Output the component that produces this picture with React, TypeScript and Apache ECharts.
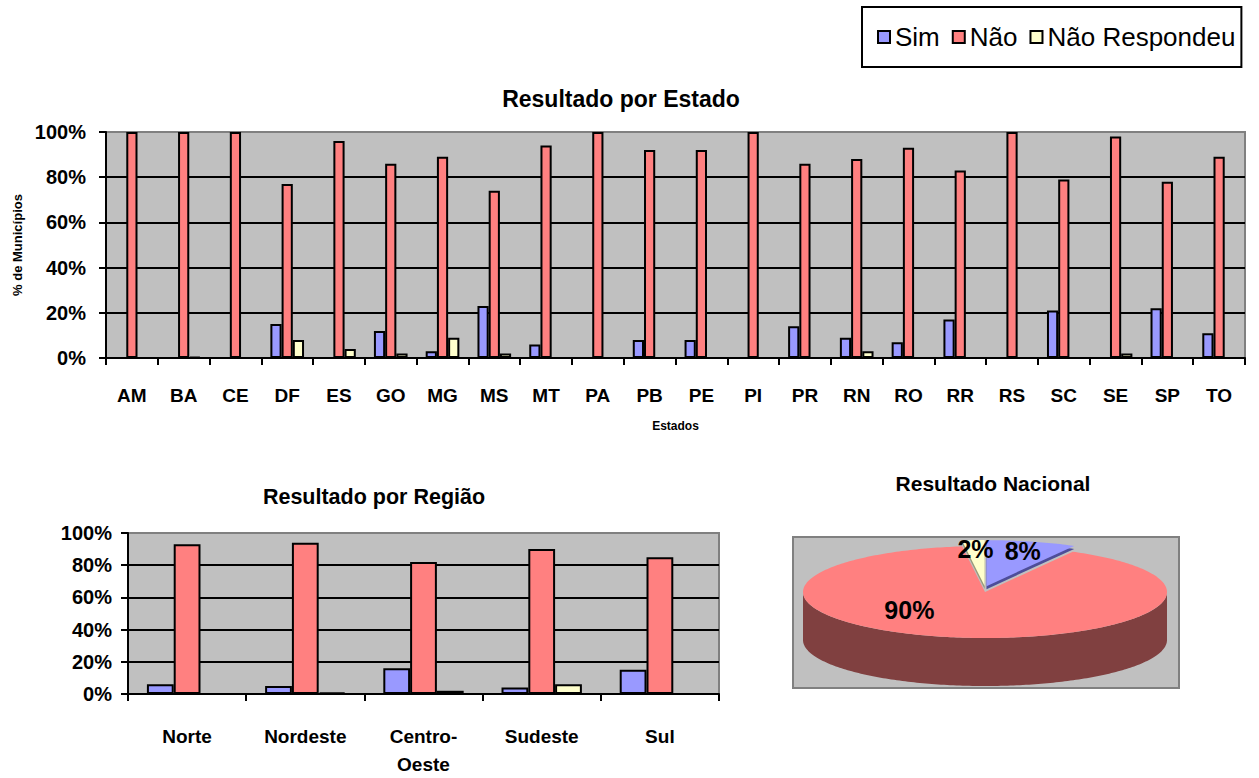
import React, { useEffect, useRef } from "react";
import * as echarts from "echarts";

// ---------- DATA ----------
const seriesNames = ["Sim", "Não", "Não Respondeu"];

const estados = ["AM", "BA", "CE", "DF", "ES", "GO", "MG", "MS", "MT", "PA", "PB", "PE", "PI", "PR", "RN", "RO", "RR", "RS", "SC", "SE", "SP", "TO"];
const estadoSim = [0, 0, 0, 15, 0, 12, 3, 23, 6, 0, 8, 8, 0, 14, 9, 7, 17, 0, 21, 0, 22, 11];
const estadoNao = [100, 100, 100, 77, 96, 86, 89, 74, 94, 100, 92, 92, 100, 86, 88, 93, 83, 100, 79, 98, 78, 89];
const estadoNR = [0, 0.5, 0, 8, 4, 2, 9, 2, 0, 0, 0, 0, 0, 0, 3, 0, 0, 0, 0, 2, 0, 0];

const regioes = ["Norte", "Nordeste", "Centro-\nOeste", "Sudeste", "Sul"];
const regiaoSim = [6, 5, 16, 4, 15];
const regiaoNao = [93, 94, 82, 90, 85];
const regiaoNR = [0, 1, 2, 6, 0];

const nacional = [8, 90, 2];

const yMin = 0;
const yMax = 100;
const yStep = 20;

// ---------- STYLE ----------
const FONT = 'Arial, "Liberation Sans", sans-serif';
const fills = ["#9999FF", "#FF8080", "#FFFFCC"];
const sideFills = ["#4D4D99", "#804040", "#99997A"];
const PIE = { cx: 985, cy: 592, rx: 182, ry: 46, depth: 48, explode: 6 };

function barSeries(name: string, data: number[], idx: number, axis: number, gap: string) {
  return {
    name,
    type: "bar",
    xAxisIndex: axis,
    yAxisIndex: axis,
    data,
    barGap: "0%",
    barCategoryGap: gap,
    itemStyle: { color: fills[idx], borderColor: "#000", borderWidth: 2 },
  };
}

function arcPoints(a0: number, a1: number, dy: number, ox: number, oy: number) {
  const pts: number[][] = [];
  const n = Math.max(2, Math.ceil(Math.abs(a1 - a0) / (Math.PI / 180)));
  for (let k = 0; k <= n; k++) {
    const t = a0 + ((a1 - a0) * k) / n;
    pts.push([PIE.cx + ox + PIE.rx * Math.cos(t), PIE.cy + oy + PIE.ry * Math.sin(t) + dy]);
  }
  return pts;
}

function renderPie(params: any, api: any) {
  const i = params.dataIndex;
  const total = nacional.reduce((a, b) => a + b, 0);
  let before = 0;
  for (let k = 0; k < i; k++) before += nacional[k];
  const v = api.value(0);
  const a0 = -Math.PI / 2 + (before / total) * 2 * Math.PI;
  const a1 = -Math.PI / 2 + ((before + v) / total) * 2 * Math.PI;
  const mid = (a0 + a1) / 2;
  const isMain = v === Math.max(...nacional);
  const ex = isMain ? 0 : PIE.explode;
  const ox = Math.cos(mid) * ex;
  const oy = Math.sin(mid) * ex;
  const children: any[] = [];
  const s = Math.max(a0, 0);
  const e = Math.min(a1, Math.PI);
  if (e > s) {
    const top = arcPoints(s, e, 0, ox, oy);
    const bot = arcPoints(s, e, PIE.depth, ox, oy).reverse();
    children.push({ type: "polygon", z2: 1, shape: { points: top.concat(bot) }, style: { fill: sideFills[i] } });
  }
  if (!isMain) {
    children.push({
      type: "polygon",
      z2: 5,
      shape: { points: [[PIE.cx + ox, PIE.cy + oy + 3]].concat(arcPoints(a0, a1, 3, ox, oy)) },
      style: { fill: sideFills[i] },
    });
  }
  children.push({
    type: "polygon",
    z2: isMain ? 2 : 6,
    shape: { points: [[PIE.cx + ox, PIE.cy + oy]].concat(arcPoints(a0, a1, 0, ox, oy)) },
    style: { fill: fills[i] },
  });
  const f = isMain ? 0.4 : 0.8;
  let lx = PIE.cx + ox + Math.cos(mid) * PIE.rx * f;
  const ly = PIE.cy + oy + Math.sin(mid) * PIE.ry * f;
  if (isMain) lx -= 62;
  children.push({
    type: "text",
    z2: 20,
    style: {
      text: Math.round((v / total) * 100) + "%",
      x: lx,
      y: ly,
      fill: "#000",
      font: "bold 25px " + FONT,
      align: "center",
      verticalAlign: "middle",
    },
  });
  return { type: "group", children };
}

const yAxisCommon = (fontSize: number, margin: number) => ({
  type: "value",
  min: yMin,
  max: yMax,
  interval: yStep,
  axisLine: { show: true, lineStyle: { color: "#000", width: 2 } },
  axisTick: { show: true, length: 7, lineStyle: { color: "#000", width: 2 } },
  axisLabel: { formatter: "{value}%", color: "#000", fontWeight: "bold", fontSize, fontFamily: FONT, margin },
  splitLine: { show: true, showMaxLine: false, lineStyle: { color: "#000", width: 2 } },
});

const xAxisCommon = (data: string[], margin: number) => ({
  type: "category",
  data,
  axisLine: { show: true, lineStyle: { color: "#000", width: 2 } },
  axisTick: { show: true, length: 7, lineStyle: { color: "#000", width: 2 } },
  axisLabel: { interval: 0, color: "#000", fontWeight: "bold", fontSize: 19, fontFamily: FONT, margin, lineHeight: 28 },
  splitLine: { show: false },
});

export default function App() {
  const ref = useRef<HTMLDivElement>(null);
  useEffect(() => {
    if (!ref.current) return;
    const chart = echarts.init(ref.current, undefined, { renderer: "svg" });
    const option: any = {
      animation: false,
      backgroundColor: "#fff",
      textStyle: { fontFamily: FONT },
      title: [
        { text: "Resultado por Estado", left: 621, top: 87, padding: 0, textAlign: "center", textStyle: { fontSize: 23, fontWeight: "bold", color: "#000", fontFamily: FONT } },
        { text: "Resultado por Região", left: 374, top: 486, padding: 0, textAlign: "center", textStyle: { fontSize: 21.5, fontWeight: "bold", color: "#000", fontFamily: FONT } },
        { text: "Resultado Nacional", left: 993, top: 473, padding: 0, textAlign: "center", textStyle: { fontSize: 21, fontWeight: "bold", color: "#000", fontFamily: FONT } },
      ],
      legend: {
        data: seriesNames,
        left: 862,
        top: 7,
        icon: "rect",
        itemWidth: 12,
        itemHeight: 12,
        itemGap: 12,
        padding: [17, 6, 17, 15],
        backgroundColor: "#fff",
        borderColor: "#000",
        borderWidth: 2,
        textStyle: { fontSize: 26, color: "#000", fontFamily: FONT },
      },
      grid: [
        { left: 106, top: 132, width: 1139, height: 226, show: true, backgroundColor: "#C0C0C0", borderColor: "#808080", borderWidth: 2 },
        { left: 128, top: 533, width: 591, height: 171, show: true, backgroundColor: "#C0C0C0", borderColor: "#808080", borderWidth: 2 },
      ],
      xAxis: [
        {
          ...xAxisCommon(estados, 23),
          gridIndex: 0,
          name: "Estados",
          nameLocation: "middle",
          nameGap: 62,
          nameTextStyle: { fontSize: 12, fontWeight: "bold", color: "#000", fontFamily: FONT },
        },
        { ...xAxisCommon(regioes, 28), gridIndex: 1 },
      ],
      yAxis: [
        {
          ...yAxisCommon(20, 20),
          gridIndex: 0,
          name: "% de Municípios",
          nameLocation: "middle",
          nameGap: 80,
          nameTextStyle: { fontSize: 13, fontWeight: "bold", color: "#000", fontFamily: FONT },
        },
        { ...yAxisCommon(20, 16), gridIndex: 1 },
      ],
      graphic: [
        { type: "rect", z: -1, shape: { x: 793, y: 537, width: 386, height: 151 }, style: { fill: "#C0C0C0", stroke: "#808080", lineWidth: 2 } },
      ],
      series: [
        barSeries(seriesNames[0], estadoSim, 0, 0, "35%"),
        barSeries(seriesNames[1], estadoNao, 1, 0, "35%"),
        barSeries(seriesNames[2], estadoNR, 2, 0, "35%"),
        barSeries(seriesNames[0], regiaoSim, 0, 1, "32%"),
        barSeries(seriesNames[1], regiaoNao, 1, 1, "32%"),
        barSeries(seriesNames[2], regiaoNR, 2, 1, "32%"),
        {
          type: "custom",
          name: "Resultado Nacional",
          coordinateSystem: "none",
          renderItem: renderPie,
          data: nacional.map((v, i) => ({ name: seriesNames[i], value: [v] })),
          z: 3,
        },
      ],
    };
    chart.setOption(option);
    return () => chart.dispose();
  }, []);
  return <div ref={ref} style={{ position: "fixed", left: 0, top: 0, width: 1259, height: 778 }} />;
}
